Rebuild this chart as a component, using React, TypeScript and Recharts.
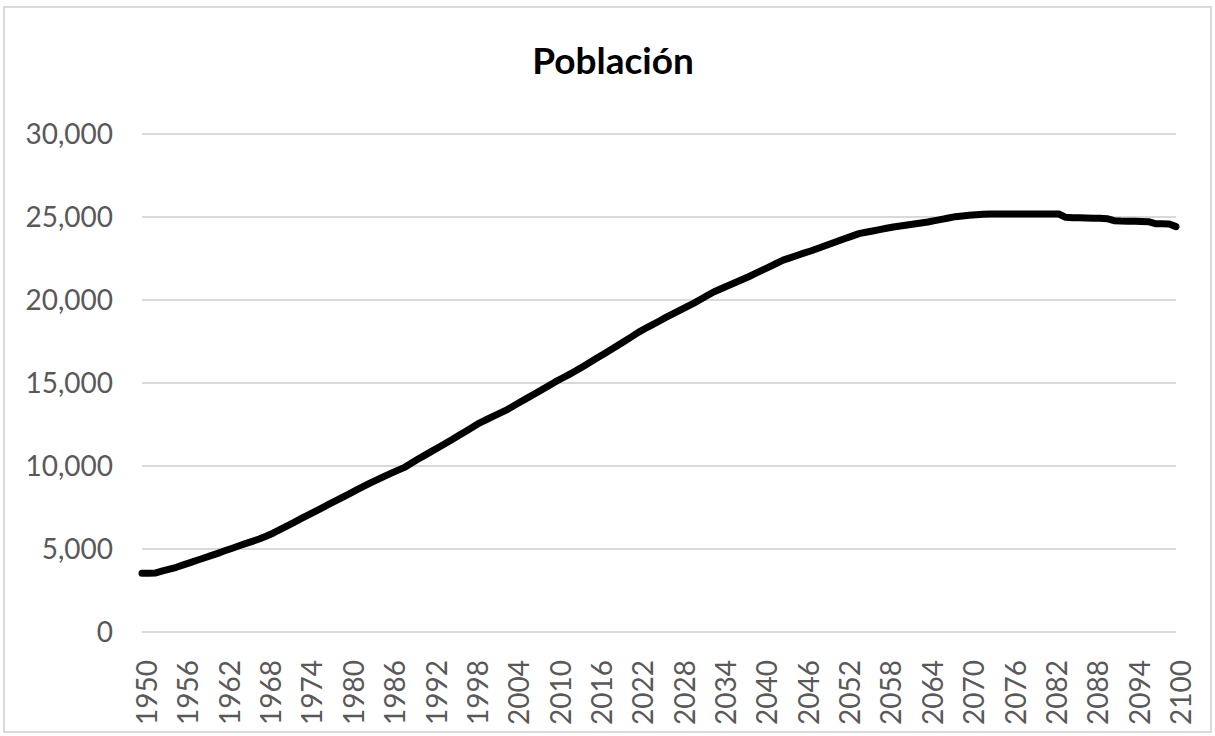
import React from "react"
import { LineChart, Line, XAxis, YAxis, CartesianGrid } from "recharts"

// population (thousands), one value per year 1950..2100
const years: number[] = Array.from({ length: 151 }, (_, i) => 1950 + i)

const population: number[] = [
  3540, 3540, 3560, 3680, 3790, 3900, 4040, 4180, 4320, 4460,
  4600, 4740, 4890, 5030, 5180, 5320, 5460, 5600, 5770, 5950,
  6160, 6380, 6590, 6810, 7020, 7240, 7450, 7670, 7880, 8100,
  8310, 8530, 8740, 8950, 9150, 9350, 9540, 9720, 9900, 10150,
  10400, 10640, 10880, 11120, 11360, 11600, 11850, 12100, 12350, 12600,
  12800, 13000, 13200, 13400, 13640, 13880, 14120, 14350, 14600, 14840,
  15080, 15300, 15520, 15750, 16000, 16250, 16500, 16750, 17000, 17260,
  17520, 17780, 18050, 18280, 18500, 18720, 18950, 19160, 19380, 19590,
  19800, 20030, 20270, 20500, 20680, 20860, 21040, 21220, 21400, 21600,
  21800, 22000, 22200, 22400, 22540, 22680, 22820, 22950, 23100, 23250,
  23400, 23550, 23700, 23850, 24000, 24080, 24160, 24240, 24320, 24400,
  24460, 24520, 24580, 24640, 24700, 24780, 24860, 24940, 25020, 25060,
  25100, 25130, 25160, 25180, 25180, 25180, 25180, 25180, 25180, 25180,
  25180, 25180, 25180, 25180, 24980, 24960, 24950, 24940, 24930, 24920,
  24900, 24780, 24760, 24750, 24740, 24730, 24720, 24600, 24590, 24580,
  24420,
]

const yTicks: number[] = [0, 5000, 10000, 15000, 20000, 25000, 30000]

const data = years.map((year, i) => ({ year: String(year), value: population[i] }))

const FONT = "Lato, 'Open Sans', sans-serif"

const YearTick = (props: any) => {
  const { x, y, payload } = props
  return (
    <text
      x={x + 4}
      y={y + 20}
      transform={`rotate(-90, ${x + 4}, ${y + 20})`}
      textAnchor="end"
      dominantBaseline="central"
      fill="#595959"
      fontSize={28}
      fontFamily={FONT}
    >
      {payload.value}
    </text>
  )
}

export default function App() {
  return (
    <div style={{ position: "absolute", left: 0, top: 0, width: 1215, height: 736, background: "#fff" }}>
      <div
        style={{
          position: "absolute",
          left: 3,
          top: 6,
          width: 1209,
          height: 727,
          border: "2px solid #d9d9d9",
          boxSizing: "border-box",
        }}
      />
      <div
        style={{
          position: "absolute",
          left: 0,
          top: 37,
          width: 1226,
          textAlign: "center",
          fontFamily: FONT,
          fontWeight: 700,
          fontSize: 37,
          color: "#000",
        }}
      >
        Población
      </div>
      <LineChart
        width={1215}
        height={736}
        data={data}
        margin={{ top: 134, right: 39, left: 0, bottom: 0 }}
        style={{ position: "absolute", left: 0, top: 0 }}
      >
        <CartesianGrid vertical={false} stroke="#d9d9d9" strokeWidth={2} />
        <XAxis
          dataKey="year"
          interval={5}
          height={104}
          tick={<YearTick />}
          tickLine={false}
          axisLine={false}
        />
        <YAxis
          width={142}
          domain={[0, 30000]}
          ticks={yTicks}
          tickFormatter={(v: number) => v.toLocaleString("en-US")}
          tick={{ fill: "#595959", fontSize: 28, fontFamily: FONT }}
          tickLine={false}
          tickSize={0}
          tickMargin={29}
          axisLine={false}
        />
        <Line
          type="linear"
          dataKey="value"
          stroke="#000"
          strokeWidth={7}
          strokeLinecap="round"
          strokeLinejoin="round"
          dot={false}
          isAnimationActive={false}
        />
      </LineChart>
    </div>
  )
}
